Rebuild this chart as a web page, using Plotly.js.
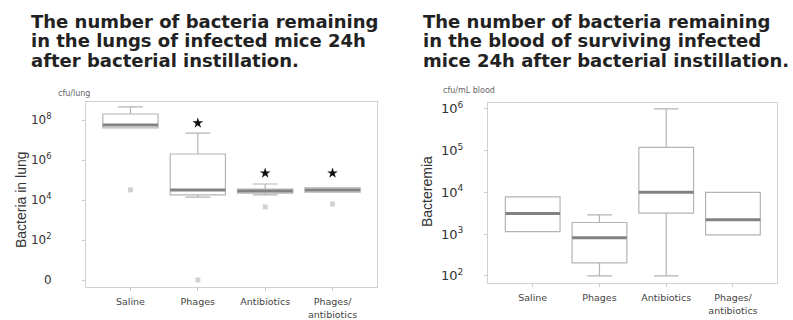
<!DOCTYPE html>
<html>
<head>
<meta charset="utf-8">
<script src="https://cdn.plot.ly/plotly-3.0.1.min.js"></script>
<style>html,body{margin:0;padding:0;background:#fff;}#chart{width:793px;height:320px;}</style>
</head>
<body>
<div id="chart"></div>
<script>
// ---- data ----
const categories = ['Saline', 'Phages', 'Antibiotics', 'Phages/<br>antibiotics'];

// Left: bacteria in lung (cfu/lung)
const lungLowerFence = [4e7, 1.4e4, 1.8e4, 2.5e4];
const lungQ1         = [4e7, 1.8e4, 2.2e4, 2.5e4];
const lungMedian     = [5.6e7, 3.2e4, 2.8e4, 3.2e4];
const lungQ3         = [2e8, 2e6, 3.5e4, 4e4];
const lungUpperFence = [4.5e8, 2.2e7, 6.3e4, 4e4];
const lungOutliers   = [3.2e4, 1, 4.5e3, 6.3e3];
const lungStars      = [null, 7e7, 2.2e5, 2.2e5];

// Right: bacteremia (cfu/mL blood)
const bloodLowerFence = [1.15e3, 1e2, 1e2, 9.6e2];
const bloodQ1         = [1.15e3, 2.05e2, 3.2e3, 9.6e2];
const bloodMedian     = [3.1e3, 8.2e2, 1e4, 2.2e3];
const bloodQ3         = [7.8e3, 1.9e3, 1.2e5, 1e4];
const bloodUpperFence = [7.8e3, 2.9e3, 1e6, 1e4];

const lungTickVals  = [1, 1e2, 1e4, 1e6, 1e8];
const lungTickText  = ['0', '10<sup>2</sup>', '10<sup>4</sup>', '10<sup>6</sup>', '10<sup>8</sup>'];
const bloodTickVals = [1e2, 1e3, 1e4, 1e5, 1e6];
const bloodTickText = ['10<sup>2</sup>', '10<sup>3</sup>', '10<sup>4</sup>', '10<sup>5</sup>', '10<sup>6</sup>'];

const leftTitleLines  = ['The number of bacteria remaining', 'in the lungs of infected mice 24h', 'after bacterial instillation.'];
const rightTitleLines = ['The number of bacteria remaining', 'in the blood of surviving infected', 'mice 24h after bacterial instillation.'];

// ---- styles ----
const W = 793, H = 320;
const px = v => v / W;
const py = v => 1 - v / H;
const boxColor = '#b4b4b4';
const medColor = '#828282';
const boxW = 0.82;

function boxTrace(xa, ya, lf, q1, med, q3, uf) {
  return {
    type: 'box', x: categories, xaxis: xa, yaxis: ya,
    lowerfence: lf, q1: q1, median: med, q3: q3, upperfence: uf,
    boxpoints: false, width: boxW, whiskerwidth: 0.45,
    fillcolor: 'rgba(0,0,0,0)', line: {color: boxColor, width: 1.2},
    hoverinfo: 'skip', showlegend: false
  };
}
function medTrace(xa, ya, med) {
  return {
    type: 'box', x: categories, xaxis: xa, yaxis: ya,
    lowerfence: med, q1: med, median: med, q3: med, upperfence: med,
    boxpoints: false, width: boxW, whiskerwidth: 0,
    fillcolor: 'rgba(0,0,0,0)', line: {color: medColor, width: 3},
    hoverinfo: 'skip', showlegend: false
  };
}

const traces = [
  boxTrace('x', 'y', lungLowerFence, lungQ1, lungMedian, lungQ3, lungUpperFence),
  medTrace('x', 'y', lungMedian),
  {type: 'scatter', mode: 'markers', x: categories, y: lungOutliers, xaxis: 'x', yaxis: 'y',
   marker: {symbol: 'square', size: 5, color: '#d2d2d2'}, showlegend: false, hoverinfo: 'skip'},
  {type: 'scatter', mode: 'markers', x: categories, y: lungStars, xaxis: 'x', yaxis: 'y',
   marker: {symbol: 'star', size: 8, color: '#111'}, showlegend: false, hoverinfo: 'skip'},
  boxTrace('x2', 'y2', bloodLowerFence, bloodQ1, bloodMedian, bloodQ3, bloodUpperFence),
  medTrace('x2', 'y2', bloodMedian)
];

const tickFontY = {family: 'DejaVu Sans, sans-serif', size: 12, color: '#333'};
const tickFontX = {family: 'DejaVu Sans, sans-serif', size: 9.5, color: '#444'};
const axisCommon = {
  showline: true, mirror: true, linecolor: '#d2d2d2', linewidth: 1,
  ticks: 'outside', ticklen: 3, tickcolor: '#cccccc',
  showgrid: false, zeroline: false, fixedrange: true
};

const annotations = [];
leftTitleLines.forEach((t, i) => annotations.push({
  text: '<b>' + t + '</b>', xref: 'paper', yref: 'paper', x: px(29), y: py(21 + i * 19.5),
  xanchor: 'left', yanchor: 'middle', showarrow: false,
  font: {family: 'DejaVu Sans, sans-serif', size: 18, color: '#222'}
}));
rightTitleLines.forEach((t, i) => annotations.push({
  text: '<b>' + t + '</b>', xref: 'paper', yref: 'paper', x: px(421), y: py(21 + i * 19.5),
  xanchor: 'left', yanchor: 'middle', showarrow: false,
  font: {family: 'DejaVu Sans, sans-serif', size: 18, color: '#222'}
}));
annotations.push(
  {text: 'cfu/lung', xref: 'paper', yref: 'paper', x: px(56), y: py(93), xanchor: 'left', yanchor: 'middle',
   showarrow: false, font: {family: 'DejaVu Sans, sans-serif', size: 8, color: '#666'}},
  {text: 'cfu/mL blood', xref: 'paper', yref: 'paper', x: px(441), y: py(90), xanchor: 'left', yanchor: 'middle',
   showarrow: false, font: {family: 'DejaVu Sans, sans-serif', size: 8, color: '#666'}},
  {text: 'Bacteria in lung', xref: 'paper', yref: 'paper', x: px(21), y: py(200), xanchor: 'center', yanchor: 'middle',
   textangle: -90, showarrow: false, font: {family: 'Liberation Sans, Arial, sans-serif', size: 14, color: '#333'}},
  {text: 'Bacteremia', xref: 'paper', yref: 'paper', x: px(427), y: py(192), xanchor: 'center', yanchor: 'middle',
   textangle: -90, showarrow: false, font: {family: 'Liberation Sans, Arial, sans-serif', size: 14, color: '#333'}}
);

const layout = {
  width: W, height: H,
  margin: {l: 0, r: 0, t: 0, b: 0},
  paper_bgcolor: '#fff', plot_bgcolor: '#fff',
  boxmode: 'overlay', showlegend: false,
  xaxis: Object.assign({}, axisCommon, {domain: [px(86), px(377)], anchor: 'y', type: 'category',
    categoryarray: categories, range: [-0.66, 3.66], tickfont: tickFontX, ticklabelstandoff: 3}),
  yaxis: Object.assign({}, axisCommon, {domain: [py(287), py(102)], anchor: 'x', type: 'log',
    range: [-0.35, 8.9], tickvals: lungTickVals, ticktext: lungTickText, tickfont: tickFontY, ticklabelstandoff: 28}),
  xaxis2: Object.assign({}, axisCommon, {domain: [px(488), px(777)], anchor: 'y2', type: 'category',
    categoryarray: categories, range: [-0.67, 3.66], tickfont: tickFontX, ticklabelstandoff: 3}),
  yaxis2: Object.assign({}, axisCommon, {domain: [py(283), py(103)], anchor: 'x2', type: 'log',
    range: [1.83, 6.14], tickvals: bloodTickVals, ticktext: bloodTickText,
    tickfont: Object.assign({}, tickFontY, {size: 13}), ticklabelstandoff: 18}),
  annotations: annotations
};

Plotly.newPlot('chart', traces, layout, {displayModeBar: false, staticPlot: true});
</script>
</body>
</html>
